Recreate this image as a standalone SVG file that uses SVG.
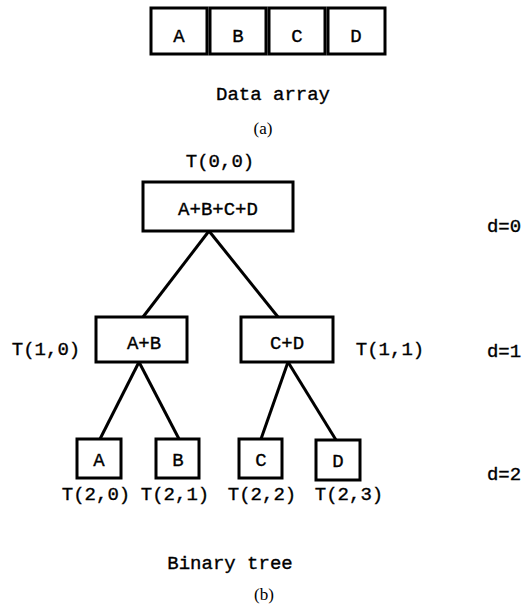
<svg xmlns="http://www.w3.org/2000/svg" width="528" height="607" viewBox="0 0 528 607">
<style>
.box{fill:#fff;stroke:#000;stroke-width:3}
.t{font-family:"Liberation Mono","DejaVu Sans Mono",monospace;font-size:19px;fill:#000;stroke:#000;stroke-width:0.35;text-anchor:middle}
.s{font-family:"Liberation Serif","Times New Roman",serif;font-size:17px;fill:#000;text-anchor:middle}
.ln{stroke:#000;stroke-width:3;fill:none}
</style>
<rect width="528" height="607" fill="#fff"/>
<g id="array">
<g id="arrA"><rect class="box" x="151" y="8" width="56" height="46"/><text class="t" x="179" y="42">A</text></g>
<g id="arrB"><rect class="box" x="210" y="8" width="56" height="46"/><text class="t" x="238" y="42">B</text></g>
<g id="arrC"><rect class="box" x="269" y="8" width="56" height="46"/><text class="t" x="297" y="42">C</text></g>
<g id="arrD"><rect class="box" x="328" y="8" width="57" height="46"/><text class="t" x="356" y="42">D</text></g>
</g>
<text class="t" x="273" y="100">Data array</text>
<text class="s" x="263" y="134">(a)</text>
<g id="connectors">
<line class="ln" x1="209" y1="231" x2="143" y2="317"/>
<line class="ln" x1="209" y1="231" x2="278" y2="317"/>
<line class="ln" x1="139" y1="362" x2="100" y2="439"/>
<line class="ln" x1="139" y1="362" x2="179" y2="439"/>
<line class="ln" x1="288" y1="362" x2="261" y2="439"/>
<line class="ln" x1="288" y1="362" x2="336" y2="440"/>
</g>
<g id="n00"><rect class="box" x="143" y="182" width="150" height="49"/><text class="t" x="218" y="215">A+B+C+D</text><text class="t" x="220" y="167">T(0,0)</text></g>
<g id="n10"><rect class="box" x="96" y="317" width="91" height="45"/><text class="t" x="144" y="349">A+B</text><text class="t" x="46" y="355">T(1,0)</text></g>
<g id="n11"><rect class="box" x="241" y="317" width="92" height="45"/><text class="t" x="287" y="349">C+D</text><text class="t" x="390" y="355">T(1,1)</text></g>
<g id="n20"><rect class="box" x="77" y="439" width="44" height="39"/><text class="t" x="99" y="466">A</text><text class="t" x="96" y="500">T(2,0)</text></g>
<g id="n21"><rect class="box" x="156" y="439" width="43" height="39"/><text class="t" x="178" y="466">B</text><text class="t" x="175" y="500">T(2,1)</text></g>
<g id="n22"><rect class="box" x="239" y="439" width="43" height="39"/><text class="t" x="261" y="466">C</text><text class="t" x="262" y="500">T(2,2)</text></g>
<g id="n23"><rect class="box" x="316" y="440" width="44" height="40"/><text class="t" x="338" y="467">D</text><text class="t" x="349" y="500">T(2,3)</text></g>
<text class="t" x="504" y="232">d=0</text>
<text class="t" x="504" y="357">d=1</text>
<text class="t" x="504" y="480">d=2</text>
<text class="t" x="230" y="569">Binary tree</text>
<text class="s" x="264" y="600">(b)</text>
</svg>
